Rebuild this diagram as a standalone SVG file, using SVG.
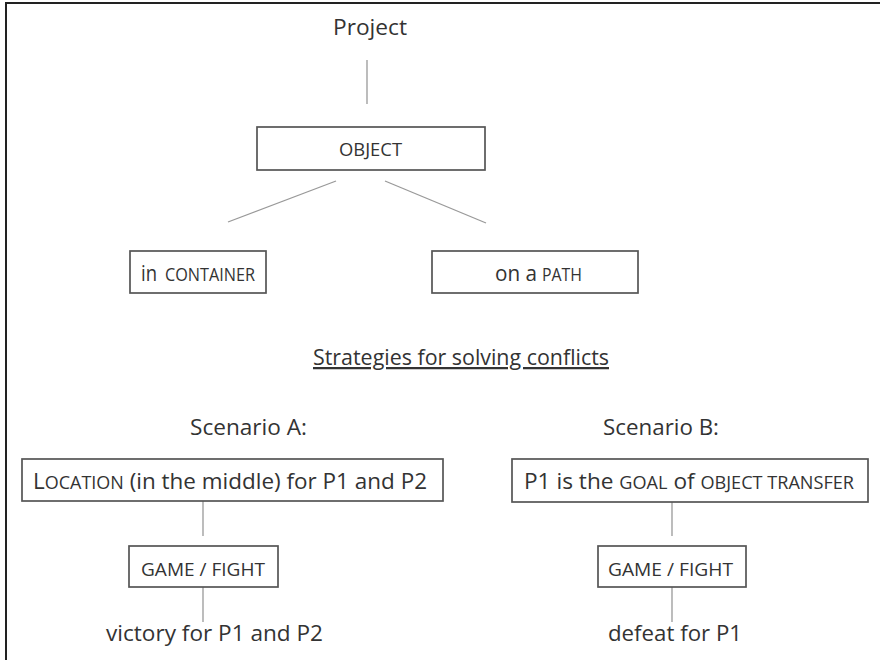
<svg xmlns="http://www.w3.org/2000/svg" width="880" height="660" viewBox="0 0 880 660">
  <style>
    text { font-family: "Open Sans", "Noto Sans", "Liberation Sans", sans-serif; fill: #333; }
    .t { font-size: 22.5px; }
    .sc { font-size: 18px; }
    .box { fill: #fff; stroke: #555; stroke-width: 1.7; }
    .link { stroke: #999; stroke-width: 1.3; fill: none; }
    .frame { stroke: #222; stroke-width: 2; fill: none; }
  </style>
  <rect width="880" height="660" fill="#fff"/>
  <path class="frame" d="M6 660 V3 H880"/>

  <g id="connectors">
    <line class="link" x1="367" y1="60" x2="367" y2="104"/>
    <line class="link" x1="336" y1="181" x2="228" y2="222"/>
    <line class="link" x1="385" y1="181" x2="486" y2="223"/>
    <line class="link" x1="203" y1="501" x2="203" y2="536"/>
    <line class="link" x1="203" y1="587" x2="203" y2="622"/>
    <line class="link" x1="672" y1="502" x2="672" y2="536"/>
    <line class="link" x1="672" y1="587" x2="672" y2="622"/>
  </g>

  <g id="project">
    <text class="t" x="333" y="35" textLength="74" lengthAdjust="spacingAndGlyphs">Project</text>
  </g>

  <g id="object">
    <rect class="box" x="257" y="127" width="228" height="43"/>
    <text class="sc" x="339" y="156" textLength="63" lengthAdjust="spacingAndGlyphs">OBJECT</text>
  </g>

  <g id="container">
    <rect class="box" x="130" y="251" width="136" height="42"/>
    <text class="t" x="141" y="281" textLength="16" lengthAdjust="spacingAndGlyphs">in</text>
    <text class="sc" x="165" y="281" textLength="90" lengthAdjust="spacingAndGlyphs">CONTAINER</text>
  </g>

  <g id="path">
    <rect class="box" x="432" y="251" width="206" height="42"/>
    <text class="t" x="495" y="281" textLength="42" lengthAdjust="spacingAndGlyphs">on a</text>
    <text class="sc" x="542" y="281" textLength="40" lengthAdjust="spacingAndGlyphs">PATH</text>
  </g>

  <g id="heading">
    <text class="t" x="313" y="365" textLength="296" lengthAdjust="spacingAndGlyphs" text-decoration="underline">Strategies for solving conflicts</text>
  </g>

  <g id="scenario-a">
    <text class="t" x="190" y="435" textLength="117" lengthAdjust="spacingAndGlyphs">Scenario A:</text>
  </g>

  <g id="location">
    <rect class="box" x="22" y="459" width="421" height="42"/>
    <text x="33" y="489" textLength="394" lengthAdjust="spacingAndGlyphs"><tspan class="t">L</tspan><tspan class="sc">OCATION</tspan><tspan class="t"> (in the middle) for P1 and P2</tspan></text>
  </g>

  <g id="game-a">
    <rect class="box" x="129" y="546" width="149" height="41"/>
    <text class="sc" x="141" y="576" textLength="124" lengthAdjust="spacingAndGlyphs">GAME / FIGHT</text>
  </g>

  <g id="victory">
    <text class="t" x="106" y="641" textLength="217" lengthAdjust="spacingAndGlyphs">victory for P1 and P2</text>
  </g>

  <g id="scenario-b">
    <text class="t" x="603" y="435" textLength="116" lengthAdjust="spacingAndGlyphs">Scenario B:</text>
  </g>

  <g id="goal">
    <rect class="box" x="512" y="459" width="356" height="43"/>
    <text x="524" y="489" textLength="330" lengthAdjust="spacingAndGlyphs"><tspan class="t">P1 is the </tspan><tspan class="sc">GOAL</tspan><tspan class="t"> of </tspan><tspan class="sc">OBJECT TRANSFER</tspan></text>
  </g>

  <g id="game-b">
    <rect class="box" x="598" y="546" width="148" height="41"/>
    <text class="sc" x="608" y="576" textLength="125" lengthAdjust="spacingAndGlyphs">GAME / FIGHT</text>
  </g>

  <g id="defeat">
    <text class="t" x="608" y="641" textLength="134" lengthAdjust="spacingAndGlyphs">defeat for P1</text>
  </g>
</svg>
